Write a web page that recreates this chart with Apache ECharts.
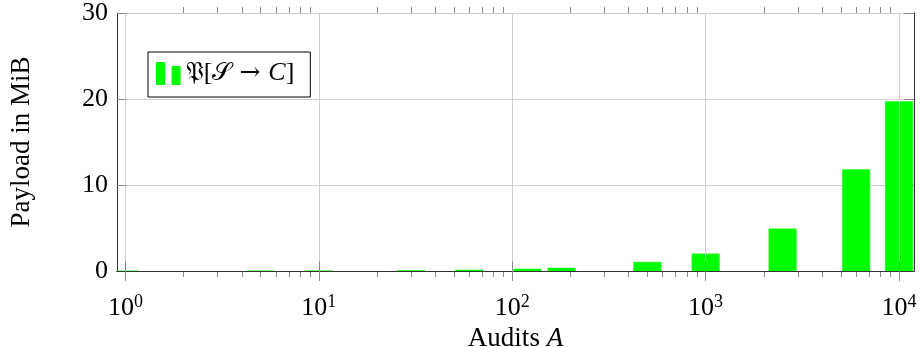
<!DOCTYPE html>
<html>
<head>
<meta charset="utf-8">
<script src="https://cdn.jsdelivr.net/npm/echarts@6/dist/echarts.min.js"></script>
<style>html,body{margin:0;padding:0;background:#fff}#c{width:920px;height:347px}</style>
</head>
<body>
<div id="c"></div>
<script>
const audits = [1, 5, 10, 30, 60, 120, 180, 500, 1000, 2500, 6000, 10000];
const payload = [0.002, 0.01, 0.02, 0.06, 0.12, 0.24, 0.35, 1.03, 2.0, 4.9, 11.8, 19.7];
const xMajorTicks = [1, 10, 100, 1000, 10000];
const xMinorTicks = [2, 3, 4, 5, 6, 7, 8, 9, 20, 30, 40, 50, 60, 70, 80, 90,
  200, 300, 400, 500, 600, 700, 800, 900, 2000, 3000, 4000, 5000, 6000, 7000, 8000, 9000];
const yTickValues = [0, 10, 20, 30];
const seriesName = 'P';

const FONT = 'Liberation Serif';
const MATHFONT = 'DejaVu Serif, DejaVu Sans, Noto Sans';
const chart = echarts.init(document.getElementById('c'));
const xMin = 0.905, xMax = 11950;

const baseX = {
  type: 'log', min: xMin, max: xMax, logBase: 10,
  axisLine: { show: false }, axisLabel: { show: false },
  splitLine: { show: false }, axisTick: { show: false }
};

chart.setOption({
  animation: false,
  grid: { left: 117, right: 6, top: 13, bottom: 76, containLabel: false, outerBoundsMode: 'none' },
  legend: {
    left: 148, top: 52, padding: [7, 16, 9, 8],
    backgroundColor: '#fff', borderColor: '#000', borderWidth: 1,
    itemWidth: 25, itemHeight: 23,
    icon: 'path://M0,0h9v23h-9z M15.6,4h9v19h-9z',
    data: [{ name: seriesName, itemStyle: { color: '#00ff00' } }],
    formatter: () => '{f|\u{1D513}}{n|[}{s|\u{1D4AE}}{a| \u2192 }{i|C}{n|]}',
    textStyle: {
      fontFamily: FONT, fontSize: 26, color: '#000', lineHeight: 29,
      rich: {
        f: { fontFamily: MATHFONT, fontSize: 25, color: '#000', lineHeight: 29 },
        n: { fontFamily: FONT, fontSize: 26, color: '#000', lineHeight: 29 },
        s: { fontFamily: MATHFONT, fontSize: 25, color: '#000', lineHeight: 29 },
        a: { fontFamily: MATHFONT, fontSize: 25, color: '#000', lineHeight: 29 },
        i: { fontFamily: FONT, fontStyle: 'italic', fontSize: 26, color: '#000', lineHeight: 29 }
      }
    }
  },
  xAxis: [
    {
      type: 'log', min: xMin, max: xMax, logBase: 10, position: 'bottom', z: 10,
      name: '{n|Audits }{i|A}', nameLocation: 'middle', nameGap: 42,
      nameTextStyle: { fontFamily: FONT, fontSize: 27, color: '#000',
        rich: { n: { fontFamily: FONT, fontSize: 27, color: '#000' },
                i: { fontFamily: FONT, fontSize: 27, fontStyle: 'italic', color: '#000' } } },
      axisLine: { show: true, onZero: false, lineStyle: { color: '#000', width: 1 } },
      axisTick: { show: true, inside: false, length: 10, customValues: xMajorTicks, lineStyle: { color: '#888' } },
      axisLabel: {
        show: true, margin: 22, customValues: xMajorTicks,
        formatter: v => '{b|10}{s|' + Math.round(Math.log10(v)) + '}',
        rich: {
          b: { fontFamily: FONT, fontSize: 26, color: '#000', verticalAlign: 'bottom', lineHeight: 28 },
          s: { fontFamily: FONT, fontSize: 18, color: '#000', verticalAlign: 'top', lineHeight: 28 }
        }
      },
      splitLine: { show: true, lineStyle: { color: '#cfcfcf', width: 1 } }
    },
    Object.assign({}, baseX, { position: 'top', z: 10,
      axisLine: { show: true, lineStyle: { color: '#333', width: 1 } },
      axisTick: { show: true, inside: false, length: 10, customValues: xMajorTicks, lineStyle: { color: '#888' } } }),
    Object.assign({}, baseX, { position: 'bottom',
      axisTick: { show: true, inside: false, length: 6, customValues: xMinorTicks, lineStyle: { color: '#888' } } }),
    Object.assign({}, baseX, { position: 'top',
      axisTick: { show: true, inside: false, length: 6, customValues: xMinorTicks, lineStyle: { color: '#888' } } })
  ],
  yAxis: [
    {
      type: 'value', min: 0, max: 30, interval: 10, position: 'left',
      name: 'Payload in MiB', nameLocation: 'middle', nameGap: 82,
      nameTextStyle: { fontFamily: FONT, fontSize: 27, color: '#000' },
      axisLine: { show: true, lineStyle: { color: '#333', width: 1 } },
      axisTick: { show: true, inside: true, length: 10, customValues: yTickValues, lineStyle: { color: '#888' } },
      axisLabel: { show: true, margin: 9, customValues: yTickValues, fontFamily: FONT, fontSize: 26, color: '#000' },
      splitLine: { show: true, lineStyle: { color: '#cfcfcf', width: 1 } }
    },
    {
      type: 'value', min: 0, max: 30, interval: 10, position: 'right',
      axisLine: { show: true, lineStyle: { color: '#333', width: 1 } },
      axisTick: { show: true, inside: true, length: 10, customValues: yTickValues, lineStyle: { color: '#888' } },
      axisLabel: { show: false }, splitLine: { show: false }
    }
  ],
  series: [{
    name: seriesName, type: 'custom', xAxisIndex: 0, yAxisIndex: 0,
    itemStyle: { color: '#00ff00' },
    data: audits.map((a, i) => [a, payload[i]]),
    encode: { x: 0, y: 1 },
    renderItem: function (params, api) {
      const x = api.value(0), v = api.value(1);
      const p0 = api.coord([x, 0]);
      const p1 = api.coord([x, v]);
      const w = 27.5;
      const rect = echarts.graphic.clipRectByRect(
        { x: p0[0] - w / 2, y: p1[1], width: w, height: Math.max(p0[1] - p1[1], 0.01) },
        { x: params.coordSys.x, y: params.coordSys.y, width: params.coordSys.width, height: params.coordSys.height });
      if (!rect) return null;
      return { type: 'rect', shape: rect,
        style: { fill: '#00ff00', stroke: 'rgba(0,255,0,0.45)', lineWidth: 1 } };
    }
  }]
});
</script>
</body>
</html>
